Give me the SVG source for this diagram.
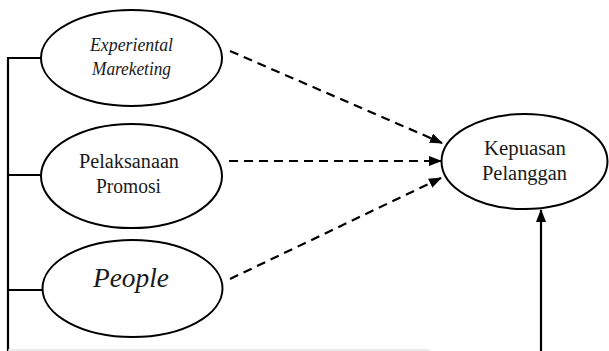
<svg xmlns="http://www.w3.org/2000/svg" width="609" height="351" viewBox="0 0 609 351">
  <style>
    .node { fill: #ffffff; stroke: #000000; stroke-width: 2; }
    .lbl { font-family: "Liberation Serif", "Times New Roman", serif; fill: #1a1a1a; text-anchor: middle; }
    .it { font-style: italic; }
    .dash { fill: none; stroke: #000000; stroke-width: 2.2; stroke-dasharray: 9 6; }
    .solid { fill: none; stroke: #000000; stroke-width: 2.2; }
  </style>
  <defs>
    <marker id="head" markerUnits="userSpaceOnUse" markerWidth="13" markerHeight="10" refX="12" refY="5" orient="auto">
      <path d="M0,0 L13,5 L0,10 z" fill="#000000"/>
    </marker>
  </defs>
  <rect width="609" height="351" fill="#ffffff"/>

  <g id="connectors">
    <!-- left bracket joining the three predictors -->
    <path class="solid" d="M8,57 V351 M7,58 H42 M7,175 H42 M7,290 H43"/>
    <!-- bottom return line to the outcome -->
    <line x1="8" y1="350" x2="430" y2="350" stroke="#e4e4e4" stroke-width="1.5"/>
    <line class="solid" x1="541" y1="351" x2="541" y2="210" marker-end="url(#head)"/>
    <!-- dashed paths to the outcome -->
    <line class="dash" x1="230" y1="51" x2="442" y2="143" marker-end="url(#head)"/>
    <line class="dash" x1="229" y1="161" x2="441" y2="161" marker-end="url(#head)"/>
    <line class="dash" x1="230" y1="279" x2="441" y2="178" marker-end="url(#head)"/>
  </g>

  <g id="experiental-marketing">
    <ellipse class="node" cx="131.5" cy="58" rx="90.5" ry="48"/>
    <text class="lbl it" x="131.5" y="51" font-size="19" textLength="83" lengthAdjust="spacingAndGlyphs">Experiental</text>
    <text class="lbl it" x="131.5" y="74.5" font-size="19" textLength="79" lengthAdjust="spacingAndGlyphs">Mareketing</text>
  </g>

  <g id="pelaksanaan-promosi">
    <ellipse class="node" cx="131.5" cy="176" rx="90.5" ry="52"/>
    <text class="lbl" x="129" y="168" font-size="20" textLength="100" lengthAdjust="spacingAndGlyphs">Pelaksanaan</text>
    <text class="lbl" x="128.5" y="193" font-size="20" textLength="65" lengthAdjust="spacingAndGlyphs">Promosi</text>
  </g>

  <g id="people">
    <ellipse class="node" cx="132.5" cy="288.5" rx="90" ry="48.5"/>
    <text class="lbl it" x="131" y="287" font-size="27" textLength="76" lengthAdjust="spacingAndGlyphs">People</text>
  </g>

  <g id="kepuasan-pelanggan">
    <ellipse class="node" cx="524.5" cy="161.5" rx="83" ry="47.5"/>
    <text class="lbl" x="525" y="155" font-size="20" textLength="82" lengthAdjust="spacingAndGlyphs">Kepuasan</text>
    <text class="lbl" x="524.5" y="180" font-size="20" textLength="85" lengthAdjust="spacingAndGlyphs">Pelanggan</text>
  </g>
</svg>
